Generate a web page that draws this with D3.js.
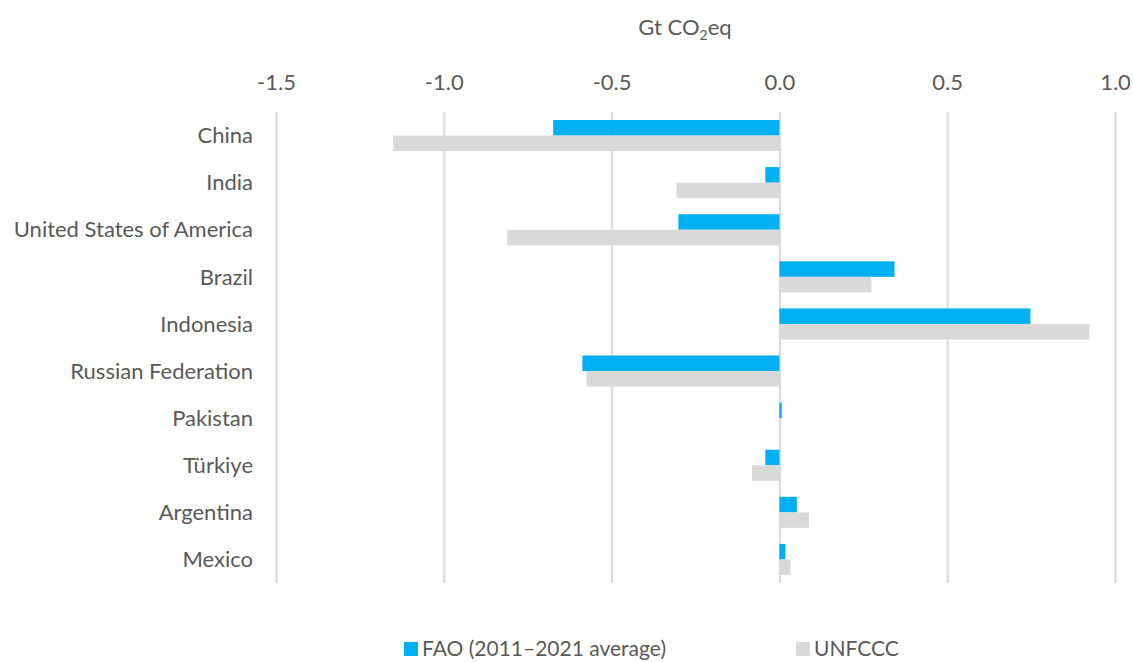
<!DOCTYPE html>
<html>
<meta charset="utf-8">
<style>
    body { margin: 0; background: #fff; }
    text { font-family: Lato, "Open Sans", sans-serif; fill: #595959; }
</style>
<body>
<script src="https://cdn.jsdelivr.net/npm/d3@7"></script>
<svg id="chart" width="1133" height="662"></svg>
<script>
var countries = ["China", "India", "United States of America", "Brazil", "Indonesia",
    "Russian Federation", "Pakistan", "Türkiye", "Argentina", "Mexico"];
var fao = [-0.674, -0.042, -0.301, 0.343, 0.748, -0.587, 0.007, -0.042, 0.052, 0.018];
var unfccc = [-1.151, -0.307, -0.811, 0.274, 0.924, -0.575, 0.0, -0.082, 0.088, 0.033];
var ticks = [-1.5, -1.0, -0.5, 0.0, 0.5, 1.0];
var seriesNames = ["FAO (2011\u20132021 average)", "UNFCCC"];
var colors = ["#00b0f0", "#d9d9d9"];

var svg = d3.select("#chart");
var plotTop = 112, plotBottom = 583;
var fs = 22;

var x = d3.scaleLinear().domain([-1.5, 1.0]).range([276, 1115]);
var y = d3.scaleBand().domain(countries).range([plotTop, plotBottom]).paddingInner(0.34).paddingOuter(0.17);
var sub = d3.scaleBand().domain([0, 1]).range([0, y.bandwidth()]);

// gridlines + tick labels
var ax = svg.append("g")
    .attr("transform", "translate(0," + plotTop + ")")
    .call(d3.axisTop(x).tickValues(ticks).tickSize(-(plotBottom - plotTop)).tickPadding(22)
        .tickFormat(function(d) { return d.toFixed(1); }));
ax.select(".domain").remove();
ax.selectAll("line").attr("stroke", "#d9d9d9").attr("stroke-width", 2);
ax.selectAll("text").attr("font-size", fs).attr("fill", "#595959")
    .style("font-family", "Lato, 'Open Sans', sans-serif");

// axis title
var title = svg.append("text").attr("x", 685).attr("y", 35).attr("text-anchor", "middle").attr("font-size", fs);
title.append("tspan").text("Gt CO");
title.append("tspan").text("2").attr("font-size", 14).attr("dy", 5);
title.append("tspan").text("eq").attr("dy", -5);

// bars
var rows = countries.map(function(c, i) { return {name: c, vals: [fao[i], unfccc[i]]}; });
var g = svg.selectAll("g.row").data(rows).enter().append("g")
    .attr("class", "row")
    .attr("transform", function(d) { return "translate(0," + y(d.name) + ")"; });

g.selectAll("rect").data(function(d) { return d.vals; }).enter().append("rect")
    .attr("x", function(v) { return x(Math.min(0, v)); })
    .attr("width", function(v) { return Math.abs(x(v) - x(0)); })
    .attr("y", function(v, j) { return sub(j); })
    .attr("height", sub.bandwidth())
    .attr("fill", function(v, j) { return colors[j]; });

// category labels
svg.selectAll("text.cat").data(countries).enter().append("text")
    .attr("class", "cat")
    .attr("x", 253)
    .attr("y", function(d) { return y(d) + y.bandwidth() / 2; })
    .attr("dy", "0.35em")
    .attr("text-anchor", "end")
    .attr("font-size", fs)
    .text(function(d) { return d; });

// legend
var legX = [404, 796];
var leg = svg.selectAll("g.leg").data(seriesNames).enter().append("g")
    .attr("class", "leg")
    .attr("transform", function(d, i) { return "translate(" + legX[i] + ",642)"; });
leg.append("rect").attr("width", 14).attr("height", 14).attr("fill", function(d, i) { return colors[i]; });
leg.append("text").attr("x", 18).attr("y", 7).attr("dy", "0.35em").attr("font-size", 21)
    .text(function(d) { return d; });
</script>
</body>
</html>
